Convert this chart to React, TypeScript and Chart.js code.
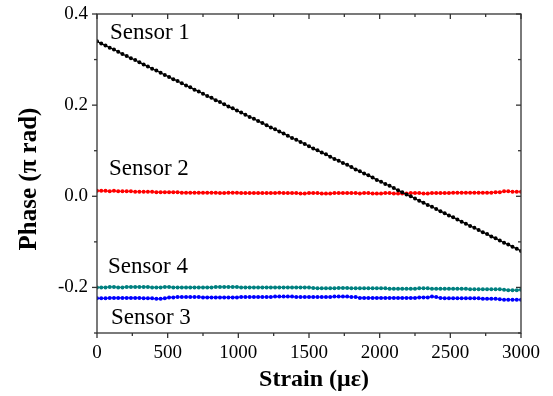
import { useEffect, useRef } from 'react';
import { Chart, registerables } from 'chart.js';

Chart.register(...registerables);

const strain = [
  0, 30, 60, 90, 120, 150, 180, 210, 240, 270,
  300, 330, 360, 390, 420, 450, 480, 510, 540, 570,
  600, 630, 660, 690, 720, 750, 780, 810, 840, 870,
  900, 930, 960, 990, 1020, 1050, 1080, 1110, 1140, 1170,
  1200, 1230, 1260, 1290, 1320, 1350, 1380, 1410, 1440, 1470,
  1500, 1530, 1560, 1590, 1620, 1650, 1680, 1710, 1740, 1770,
  1800, 1830, 1860, 1890, 1920, 1950, 1980, 2010, 2040, 2070,
  2100, 2130, 2160, 2190, 2220, 2250, 2280, 2310, 2340, 2370,
  2400, 2430, 2460, 2490, 2520, 2550, 2580, 2610, 2640, 2670,
  2700, 2730, 2760, 2790, 2820, 2850, 2880, 2910, 2940, 2970,
  3000,
];

const sensor1 = [
  0.340, 0.335, 0.331, 0.326, 0.322, 0.317, 0.312, 0.308, 0.303, 0.299,
  0.294, 0.289, 0.285, 0.280, 0.276, 0.271, 0.266, 0.262, 0.257, 0.253,
  0.248, 0.243, 0.239, 0.234, 0.230, 0.225, 0.220, 0.216, 0.211, 0.207,
  0.202, 0.197, 0.193, 0.188, 0.184, 0.179, 0.174, 0.170, 0.165, 0.161,
  0.156, 0.151, 0.147, 0.142, 0.138, 0.133, 0.128, 0.124, 0.119, 0.115,
  0.110, 0.105, 0.101, 0.096, 0.092, 0.087, 0.082, 0.078, 0.073, 0.069,
  0.064, 0.059, 0.055, 0.050, 0.046, 0.041, 0.036, 0.032, 0.027, 0.023,
  0.018, 0.013, 0.009, 0.004, 0.000, -0.005, -0.010, -0.014, -0.019, -0.023,
  -0.028, -0.033, -0.037, -0.042, -0.046, -0.051, -0.056, -0.060, -0.065, -0.069,
  -0.074, -0.079, -0.083, -0.088, -0.092, -0.097, -0.102, -0.106, -0.111, -0.115,
  -0.120,
];

const sensor2 = [
  0.012, 0.012, 0.012, 0.011, 0.012, 0.011, 0.011, 0.011, 0.011, 0.010,
  0.010, 0.010, 0.010, 0.010, 0.009, 0.009, 0.009, 0.009, 0.009, 0.009,
  0.008, 0.008, 0.008, 0.008, 0.008, 0.008, 0.008, 0.008, 0.008, 0.007,
  0.007, 0.008, 0.008, 0.008, 0.007, 0.007, 0.007, 0.007, 0.007, 0.007,
  0.007, 0.007, 0.007, 0.008, 0.007, 0.007, 0.007, 0.007, 0.006, 0.006,
  0.007, 0.007, 0.007, 0.006, 0.006, 0.006, 0.007, 0.007, 0.007, 0.007,
  0.007, 0.007, 0.006, 0.007, 0.007, 0.006, 0.006, 0.006, 0.007, 0.007,
  0.006, 0.006, 0.006, 0.006, 0.007, 0.007, 0.007, 0.006, 0.006, 0.007,
  0.007, 0.007, 0.007, 0.007, 0.008, 0.008, 0.008, 0.008, 0.008, 0.008,
  0.008, 0.008, 0.008, 0.008, 0.009, 0.009, 0.011, 0.011, 0.010, 0.010,
  0.010,
];

const sensor4 = [
  -0.200, -0.200, -0.200, -0.199, -0.199, -0.200, -0.200, -0.199, -0.199, -0.199,
  -0.199, -0.199, -0.199, -0.200, -0.200, -0.200, -0.199, -0.199, -0.200, -0.200,
  -0.200, -0.200, -0.200, -0.200, -0.200, -0.200, -0.200, -0.200, -0.199, -0.199,
  -0.199, -0.199, -0.199, -0.199, -0.200, -0.200, -0.200, -0.200, -0.200, -0.200,
  -0.200, -0.200, -0.200, -0.200, -0.200, -0.200, -0.200, -0.200, -0.200, -0.200,
  -0.200, -0.201, -0.202, -0.202, -0.202, -0.202, -0.202, -0.201, -0.201, -0.201,
  -0.202, -0.202, -0.202, -0.202, -0.202, -0.202, -0.202, -0.202, -0.202, -0.203,
  -0.203, -0.203, -0.203, -0.203, -0.203, -0.203, -0.202, -0.202, -0.202, -0.203,
  -0.203, -0.203, -0.203, -0.203, -0.203, -0.203, -0.203, -0.203, -0.204, -0.204,
  -0.204, -0.204, -0.204, -0.204, -0.204, -0.204, -0.205, -0.206, -0.206, -0.206,
  -0.205,
];

const sensor3 = [
  -0.224, -0.224, -0.224, -0.223, -0.223, -0.223, -0.223, -0.223, -0.223, -0.223,
  -0.223, -0.224, -0.224, -0.224, -0.225, -0.225, -0.224, -0.222, -0.222, -0.221,
  -0.221, -0.221, -0.221, -0.221, -0.221, -0.222, -0.222, -0.222, -0.222, -0.222,
  -0.222, -0.222, -0.222, -0.222, -0.221, -0.221, -0.221, -0.221, -0.221, -0.221,
  -0.221, -0.221, -0.220, -0.220, -0.220, -0.220, -0.220, -0.221, -0.221, -0.221,
  -0.221, -0.221, -0.221, -0.221, -0.221, -0.221, -0.220, -0.220, -0.220, -0.220,
  -0.221, -0.221, -0.223, -0.223, -0.223, -0.223, -0.223, -0.223, -0.223, -0.223,
  -0.223, -0.223, -0.223, -0.223, -0.223, -0.223, -0.222, -0.222, -0.222, -0.220,
  -0.221, -0.223, -0.224, -0.224, -0.224, -0.224, -0.224, -0.224, -0.224, -0.224,
  -0.224, -0.225, -0.225, -0.225, -0.225, -0.226, -0.227, -0.227, -0.227, -0.227,
  -0.227,
];

const seriesNames = ['Sensor 1', 'Sensor 2', 'Sensor 4', 'Sensor 3'];
const seriesColors = ['#000000', '#ff0000', '#008080', '#0000ff'];
const seriesValues = [sensor1, sensor2, sensor4, sensor3];

const annotationTexts = ['Sensor 1', 'Sensor 2', 'Sensor 4', 'Sensor 3'];
const annotationX = [92, 85, 78, 99];
const annotationY = [0.345, 0.046, -0.169, -0.281];

const xTitle = 'Strain (με)';
const yTitle = 'Phase (π rad)';

const xMajorTicks = [0, 500, 1000, 1500, 2000, 2500, 3000];
const xMinorTicks = [250, 750, 1250, 1750, 2250, 2750];
const yMajorTicks = [-0.2, 0, 0.2, 0.4];
const yMinorTicks = [-0.3, -0.1, 0.1, 0.3];
const yTickLabels = ['-0.2', '0.0', '0.2', '0.4'];

const FONT = '"Liberation Serif", "Times New Roman", serif';

const framePlugin = {
  id: 'frame',
  afterDatasetsDraw(chart: any) {
    const { ctx, chartArea, scales } = chart;
    const { left, right, top, bottom } = chartArea;
    const xs = scales.x;
    const ys = scales.y;
    ctx.save();
    ctx.strokeStyle = '#333333';
    ctx.lineWidth = 1.3;
    ctx.strokeRect(left, top, right - left, bottom - top);
    const seg = (x1: number, y1: number, x2: number, y2: number) => {
      ctx.beginPath();
      ctx.moveTo(x1, y1);
      ctx.lineTo(x2, y2);
      ctx.stroke();
    };
    xMajorTicks.forEach((v) => {
      const p = xs.getPixelForValue(v);
      seg(p, bottom, p, bottom + 5);
      seg(p, top, p, top + 5);
    });
    xMinorTicks.forEach((v) => {
      const p = xs.getPixelForValue(v);
      seg(p, bottom, p, bottom + 3);
      seg(p, top, p, top + 3);
    });
    yMajorTicks.forEach((v) => {
      const p = ys.getPixelForValue(v);
      seg(left - 5, p, left, p);
      seg(right - 5, p, right, p);
    });
    yMinorTicks.forEach((v) => {
      const p = ys.getPixelForValue(v);
      seg(left - 3, p, left, p);
      seg(right - 3, p, right, p);
    });
    ctx.fillStyle = '#000';
    ctx.font = '23px ' + FONT;
    ctx.textAlign = 'left';
    ctx.textBaseline = 'alphabetic';
    annotationTexts.forEach((t, i) => {
      ctx.fillText(t, xs.getPixelForValue(annotationX[i]), ys.getPixelForValue(annotationY[i]));
    });

    // axis titles
    ctx.textAlign = 'center';
    ctx.textBaseline = 'middle';
    ctx.font = 'bold 24px ' + FONT;
    ctx.fillText(xTitle, (left + right) / 2 + 5, 380);
    ctx.font = 'bold 25px ' + FONT;
    ctx.translate(29.5, (top + bottom) / 2 + 5.5);
    ctx.rotate(-Math.PI / 2);
    ctx.fillText(yTitle, 0, 0);
    ctx.restore();
  },
};

export default function App() {
  const ref = useRef<HTMLCanvasElement | null>(null);

  useEffect(() => {
    if (!ref.current) return;
    Chart.defaults.font.family = FONT;
    const chart = new Chart(ref.current, {
      type: 'line',
      data: {
        datasets: seriesValues.map((vals, k) => ({
          label: seriesNames[k],
          data: strain.map((x, i) => ({ x, y: vals[i] })),
          borderColor: seriesColors[k],
          backgroundColor: seriesColors[k],
          borderWidth: 1.2,
          pointRadius: 2,
          pointBorderWidth: 0,
          pointStyle: 'circle',
          tension: 0,
        })),
      },
      options: {
        animation: false,
        responsive: true,
        maintainAspectRatio: false,
        layout: { padding: { left: 0, top: 14, right: 32, bottom: 0 } },
        plugins: {
          legend: { display: false },
          tooltip: { enabled: false },
        },
        scales: {
          x: {
            type: 'linear',
            min: 0,
            max: 3000,
            afterBuildTicks: (s: any) => {
              s.ticks = xMajorTicks.map((v) => ({ value: v }));
            },
            afterFit: (s: any) => {
              s.height = 63;
              s.paddingLeft = 0;
              s.paddingRight = 0;
            },
            grid: { display: false, drawTicks: false },
            border: { display: false },
            ticks: {
              color: '#000',
              font: { size: 19 },
              padding: 9,
              maxRotation: 0,
              autoSkip: false,
              callback: (v: any) => String(v),
            },
            title: { display: false },
          },
          y: {
            type: 'linear',
            min: -0.3,
            max: 0.4,
            afterBuildTicks: (s: any) => {
              s.ticks = yMajorTicks.map((v) => ({ value: v }));
            },
            afterFit: (s: any) => {
              s.width = 97;
              s.paddingTop = 0;
              s.paddingBottom = 0;
            },
            grid: { display: false, drawTicks: false },
            border: { display: false },
            ticks: {
              color: '#000',
              font: { size: 19 },
              padding: 9,
              autoSkip: false,
              callback: (v: any) => {
                const idx = yMajorTicks.findIndex((t) => Math.abs(t - v) < 1e-9);
                return idx >= 0 ? yTickLabels[idx] : '';
              },
            },
            title: { display: false },
          },
        },
      },
      plugins: [framePlugin],
    });
    return () => chart.destroy();
  }, []);

  return (
    <div style={{ position: 'fixed', left: 0, top: 0, width: 553, height: 396, background: '#fff' }}>
      <canvas ref={ref} />
    </div>
  );
}
